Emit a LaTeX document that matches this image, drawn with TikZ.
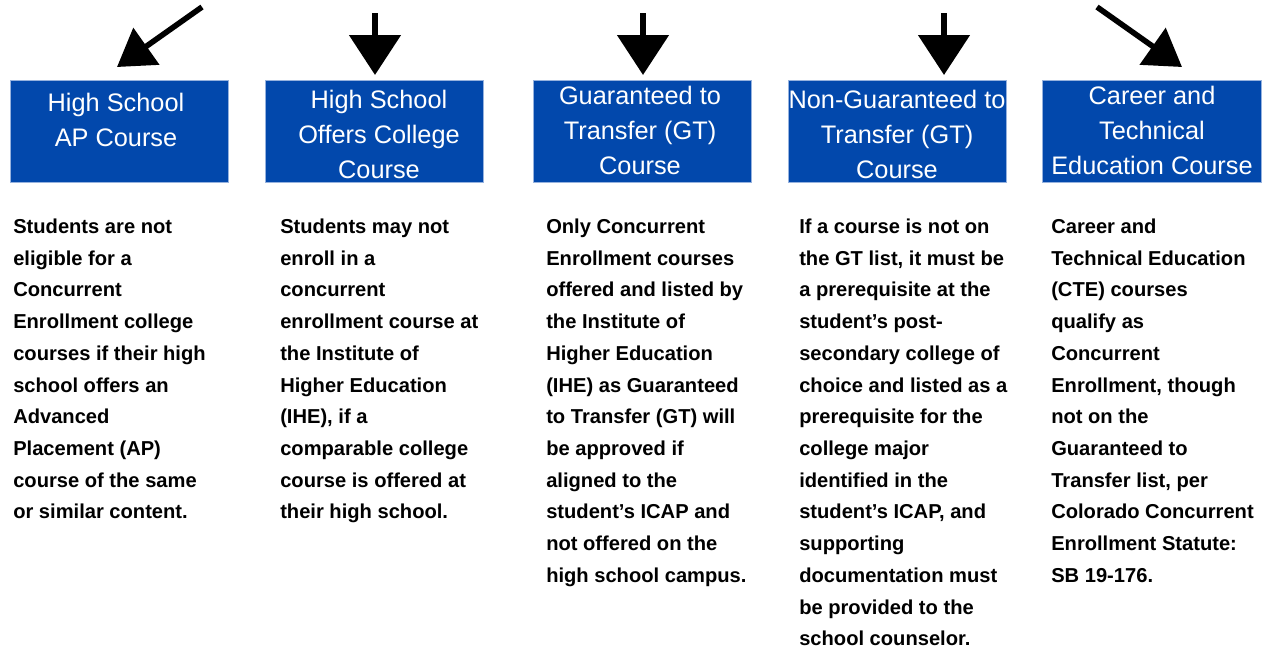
\documentclass[tikz,border=0pt]{standalone}
\usepackage{fontspec}
\setmainfont{Liberation Sans}
\usetikzlibrary{arrows.meta}
\definecolor{boxblue}{RGB}{2,72,172}
\definecolor{boxedge}{RGB}{150,178,222}
\tikzset{
  cbox/.style={draw=boxedge, line width=0.75pt, fill=boxblue, minimum width=164pt, minimum height=76.5pt, inner sep=0pt},
  btext/.style={text=white, align=center, inner sep=0pt, anchor=north, font=\fontsize{19}{26.25}\selectfont},
  body/.style={text=black, align=left, inner sep=0pt, anchor=north west, font=\fontsize{15.1}{23.8}\selectfont\bfseries},
  varrow/.style={line width=4.5pt, -{Triangle[length=30pt,width=38pt]}},
  darrow/.style={line width=4.2pt, -{Triangle[length=27pt,width=33pt]}},
}
\begin{document}
\begin{tikzpicture}[x=0.75pt,y=-0.75pt]
\useasboundingbox[fill=white] (0,0) rectangle (1262,650);
% boxes
\node[cbox] (b1) at (119.5,131) {};
\node[cbox] (b2) at (374.5,131) {};
\node[cbox] (b3) at (642.5,131.5) {};
\node[cbox] (b4) at (897.5,131.5) {};
\node[cbox] (b5) at (1152,131.5) {};
% box texts
\node[btext] (t1) at (116,92.5) {High School\\AP Course};
\node[btext] (t2) at (379,89.5) {High School\\Offers College\\Course};
\node[btext] (t3) at (640,86) {Guaranteed to\\Transfer (GT)\\Course};
\node[btext] (t4) at (897,89.5) {Non-Guaranteed to\\Transfer (GT)\\Course};
\node[btext] (t5) at (1152,86) {Career and\\Technical\\Education Course};
% arrows
\coordinate (a1s) at (202,7);
\coordinate (a1e) at (117,67);
\coordinate (a2s) at (375,13);
\coordinate (a2e) at (375,75);
\coordinate (a3s) at (643,13);
\coordinate (a3e) at (643,75);
\coordinate (a4s) at (944,13);
\coordinate (a4e) at (944,75);
\coordinate (a5s) at (1097,7);
\coordinate (a5e) at (1182,67);
\draw[darrow] (a1s) -- (a1e);
\draw[varrow] (a2s) -- (a2e);
\draw[varrow] (a3s) -- (a3e);
\draw[varrow] (a4s) -- (a4e);
\draw[darrow] (a5s) -- (a5e);
% body texts
\node[body] (d1) at (13,218.5) {Students are not\\eligible for a\\Concurrent\\Enrollment college\\courses if their high\\school offers an\\Advanced\\Placement (AP)\\course of the same\\or similar content.};
\node[body] (d2) at (280,218.5) {Students may not\\enroll in a\\concurrent\\enrollment course at\\the Institute of\\Higher Education\\(IHE), if a\\comparable college\\course is offered at\\their high school.};
\node[body] (d3) at (546,218.5) {Only Concurrent\\Enrollment courses\\offered and listed by\\the Institute of\\Higher Education\\(IHE) as Guaranteed\\to Transfer (GT) will\\be approved if\\aligned to the\\student’s ICAP and\\not offered on the\\high school campus.};
\node[body] (d4) at (799,218.5) {If a course is not on\\the GT list, it must be\\a prerequisite at the\\student’s post-\\secondary college of\\choice and listed as a\\prerequisite for the\\college major\\identified in the\\student’s ICAP, and\\supporting\\documentation must\\be provided to the\\school counselor.};
\node[body] (d5) at (1051,218.5) {Career and\\Technical Education\\(CTE) courses\\qualify as\\Concurrent\\Enrollment, though\\not on the\\Guaranteed to\\Transfer list, per\\Colorado Concurrent\\Enrollment Statute:\\SB 19-176.};
\end{tikzpicture}
\end{document}
